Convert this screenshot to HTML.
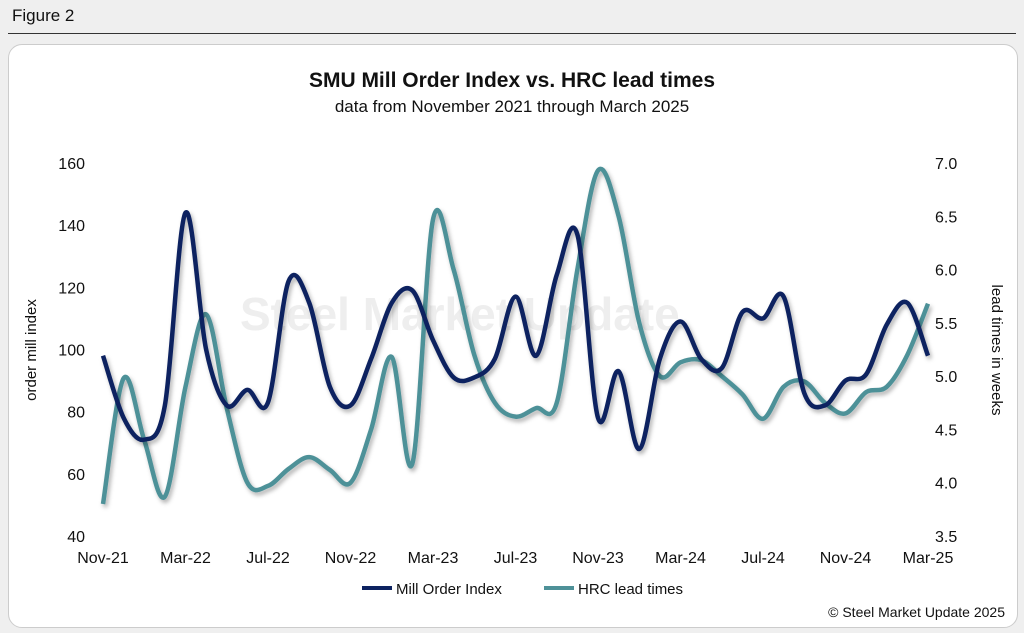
<!DOCTYPE html>
<html><head><meta charset="utf-8">
<style>
body{margin:0;width:1024px;height:633px;background:#efefef;font-family:"Liberation Sans",sans-serif;overflow:hidden;position:relative}
#fig{position:absolute;left:12px;top:6px;font-size:17px;color:#111}
#rule{position:absolute;left:8px;right:8px;top:33px;height:1px;background:#333}
#panel{position:absolute;left:8px;top:44px;width:1008px;height:582px;background:#fff;border-radius:14px;border:1px solid #ccc}
svg{position:absolute;left:0;top:0}
</style></head><body>
<div id="fig">Figure 2</div>
<div id="rule"></div>
<div id="panel"></div>
<svg id="chart" width="1024" height="633">
<defs><filter id="sh" x="-5%" y="-5%" width="110%" height="120%"><feDropShadow dx="2" dy="3" stdDeviation="2" flood-color="#000" flood-opacity="0.3"/></filter></defs>
<text x="512" y="87" text-anchor="middle" font-size="21" font-weight="bold" fill="#111">SMU Mill Order Index vs. HRC lead times</text>
<text x="512" y="112" text-anchor="middle" font-size="17" fill="#111">data from November 2021 through March 2025</text>
<text x="240" y="330" font-size="46" font-weight="bold" fill="#eee">Steel Market Update</text>
<text transform="translate(36,350) rotate(-90)" text-anchor="middle" font-size="15" fill="#111">order mill index</text>
<text transform="translate(992,350) rotate(90)" text-anchor="middle" font-size="15" fill="#111">lead times in weeks</text>
<g id="axes"></g><g id="series"></g>
<line x1="362" y1="588" x2="392" y2="588" stroke="#0d2260" stroke-width="4"/>
<text x="396" y="594" font-size="15" fill="#111">Mill Order Index</text>
<line x1="544" y1="588" x2="574" y2="588" stroke="#4e9198" stroke-width="4"/>
<text x="578" y="594" font-size="15" fill="#111">HRC lead times</text>
<text x="1005" y="617" text-anchor="end" font-size="14" fill="#111">© Steel Market Update 2025</text>
</svg>
<script>
const xLabels=["Nov-21","Mar-22","Jul-22","Nov-22","Mar-23","Jul-23","Nov-23","Mar-24","Jul-24","Nov-24","Mar-25"];
const leftTicks=[40,60,80,100,120,140,160];
const rightTicks=["3.5","4.0","4.5","5.0","5.5","6.0","6.5","7.0"];
const millOrder=[98,78,71,82,144,100,82,87,83,122,115,88,82,97,115,119,103,91,91,97,117,98,124,137,78,93,68,97,109,97,94,112,110,117,86,82,90,92,108,115,98];
const hrcLead=[3.8,4.98,4.4,3.87,4.9,5.58,4.7,4.0,3.97,4.13,4.24,4.12,4.0,4.5,5.18,4.18,6.47,6.0,5.2,4.75,4.62,4.7,4.75,6.0,6.93,6.5,5.5,5.0,5.13,5.15,5.0,4.83,4.6,4.9,4.95,4.75,4.65,4.85,4.9,5.2,5.68];
const ns="http://www.w3.org/2000/svg";
const x=i=>103+i*(825/40);
const yL=v=>536-(v-40)*(373/120);
const yR=v=>536-(v-3.5)*(373/3.5);
const ax=document.getElementById('axes'),se=document.getElementById('series');
function t(p,xx,yy,s,a){const e=document.createElementNS(ns,'text');e.setAttribute('x',xx);e.setAttribute('y',yy);e.setAttribute('font-size',16);e.setAttribute('fill','#111');e.setAttribute('text-anchor',a);e.textContent=s;p.appendChild(e);return e;}
xLabels.forEach((s,i)=>{const e=t(ax,x(i*4),563,s,'middle');

});
leftTicks.forEach(v=>{const e=t(ax,85,yL(v)+6,String(v),'end');

});
rightTicks.forEach(v=>{const e=t(ax,935,yR(+v)+6,v,'start');

});
function path(vals,fy){const p=vals.map((v,i)=>[x(i),fy(v)]);let d='M'+p[0];
for(let i=0;i<p.length-1;i++){const p0=p[i-1]||p[i],p1=p[i],p2=p[i+1],p3=p[i+2]||p2;
d+=' C'+(p1[0]+(p2[0]-p0[0])/6)+','+(p1[1]+(p2[1]-p0[1])/6)+' '+(p2[0]-(p3[0]-p1[0])/6)+','+(p2[1]-(p3[1]-p1[1])/6)+' '+p2;}return d;}
const h=document.createElementNS(ns,'path');h.setAttribute('d',path(hrcLead,yR));h.setAttribute('fill','none');h.setAttribute('stroke','#4e9198');h.setAttribute('stroke-width',4.5);h.setAttribute('filter','url(#sh)');


se.appendChild(h);
const m=document.createElementNS(ns,'path');m.setAttribute('d',path(millOrder,yL));m.setAttribute('fill','none');m.setAttribute('stroke','#0d2260');m.setAttribute('stroke-width',4.5);m.setAttribute('filter','url(#sh)');


se.appendChild(m);
</script>
</body></html>
